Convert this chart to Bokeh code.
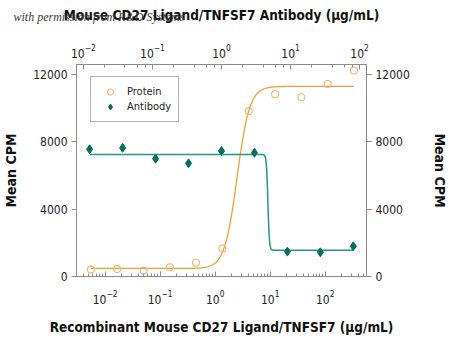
import numpy as np
from bokeh.plotting import figure
from bokeh.models import (LogAxis, LinearAxis, Range1d, LogScale, FixedTicker,
                          Legend, LegendItem)
from bokeh.embed import file_html
from bokeh.resources import INLINE

# Protein (bottom axis) data
protein_conc = [0.0055, 0.0165, 0.05, 0.15, 0.45, 1.35, 4.1, 12.3, 37, 111, 333]
protein_cpm = [410, 440, 350, 550, 830, 1660, 9830, 10830, 10650, 11440, 12240]
# Antibody (top axis) data
antibody_conc = [0.0123, 0.037, 0.111, 0.333, 1.0, 3.0, 9.0, 27.0, 81.0]
antibody_cpm = [7560, 7650, 7000, 6730, 7460, 7360, 1480, 1440, 1800]

# Fitted 4-parameter logistic curves (parameters)
prot_fit = dict(bottom=480, top=11300, ec50=2.5, hill=3.8)
ab_fit = dict(bottom=1560, top=7250, ec50=4.7, hill=-40)

y_ticks = [0, 4000, 8000, 12000]
watermark = "with permission from R&D Systems"

def four_pl(x, bottom, top, ec50, hill):
    return bottom + (top - bottom) / (1 + (ec50 / x) ** hill)

FONT = "DejaVu Sans Condensed, Roboto"
ORANGE_LINE = "#f0a032"
ORANGE_PT = "#f4b26a"
TEAL_LINE = "#23968a"
TEAL_PT = "#00705f"
AXIS_C = "#8a8a8a"
TEXT_C = "#222222"

p = figure(width=450, height=340, x_axis_type="log",
           x_range=Range1d(10 ** -2.52, 10 ** 2.75), y_range=Range1d(0, 12600),
           output_backend="svg", toolbar_location=None,
           title="\n\n" + watermark, title_location="above",
           min_border_left=73, min_border_right=75, min_border_top=63, min_border_bottom=64)
p.title.text_font = "Liberation Serif"
p.title.text_font_style = "italic"
p.title.text_font_size = "12px"
p.title.text_color = "#3a3a3a"
p.title.align = "left"
p.title.vertical_align = "bottom"
p.title.offset = -63
p.title.standoff = -41

p.extra_x_ranges = {"ab": Range1d(10 ** -2.1, 10 ** 2.1)}
p.extra_x_scales = {"ab": LogScale()}
p.grid.visible = False
p.outline_line_color = AXIS_C
p.background_fill_color = "white"
p.border_fill_color = "white"

bottom_axis = p.below[0]
left_axis = p.left[0]
top_axis = LogAxis(x_range_name="ab")
p.add_layout(top_axis, "above")
right_axis = LinearAxis()
p.add_layout(right_axis, "right")

top_axis.axis_label = "Mouse CD27 Ligand/TNFSF7 Antibody (μg/mL)"
bottom_axis.axis_label = "Recombinant Mouse CD27 Ligand/TNFSF7 (μg/mL)"
left_axis.axis_label = "Mean CPM"
right_axis.axis_label = "Mean CPM"

for ax in (top_axis, bottom_axis):
    ax.major_tick_in = 5
    ax.major_tick_out = 0
    ax.minor_tick_in = 3
    ax.minor_tick_out = 0
    ax.minor_tick_line_color = AXIS_C
top_axis.major_label_standoff = 7
bottom_axis.major_label_standoff = 13
for ax in (left_axis, right_axis):
    ax.ticker = FixedTicker(ticks=y_ticks)
    ax.major_tick_in = 0
    ax.major_tick_out = 5
    ax.minor_tick_line_color = None
    ax.major_label_standoff = 4
for ax in (top_axis, bottom_axis, left_axis, right_axis):
    ax.axis_line_color = AXIS_C
    ax.major_tick_line_color = AXIS_C
    ax.major_label_text_font = FONT
    ax.major_label_text_font_size = "12px"
    ax.major_label_text_color = TEXT_C
    ax.axis_label_text_font = FONT
    ax.axis_label_text_font_size = "13.5px"
    ax.axis_label_text_font_style = "bold"
    ax.axis_label_text_color = "#111111"
left_axis.axis_label_text_font_size = "14px"
right_axis.axis_label_text_font_size = "14px"
left_axis.axis_label_standoff = 11
right_axis.axis_label_standoff = 19
top_axis.axis_label_standoff = 18
bottom_axis.axis_label_standoff = 12

# Fitted curves
xp = np.logspace(np.log10(protein_conc[0]), np.log10(protein_conc[-1]), 400)
p.line(xp, four_pl(xp, **prot_fit), line_color=ORANGE_LINE, line_width=1.3)
xa = np.logspace(np.log10(antibody_conc[0]), np.log10(antibody_conc[-1]), 800)
p.line(xa, four_pl(xa, **ab_fit), line_color=TEAL_LINE, line_width=1.5, x_range_name="ab")

r_prot = p.scatter(protein_conc, protein_cpm, marker="circle", size=7,
                   fill_color=None, line_color=ORANGE_PT, line_width=1.1)
r_ab = p.scatter(antibody_conc, antibody_cpm, marker="diamond", size=9,
                 fill_color=TEAL_PT, line_color=TEAL_PT, x_range_name="ab")

legend = Legend(items=[LegendItem(label="Protein", renderers=[r_prot]),
                       LegendItem(label="Antibody", renderers=[r_ab])],
                location=(14, 154), padding=7, margin=0, spacing=0,
                glyph_width=24, glyph_height=15, label_height=15, label_standoff=5,
                label_text_font=FONT, label_text_font_size="11px", label_text_color=TEXT_C,
                border_line_color="#666666", border_line_width=1,
                background_fill_alpha=1.0)
p.add_layout(legend)

open("out.html", "w").write(file_html(p, INLINE))
